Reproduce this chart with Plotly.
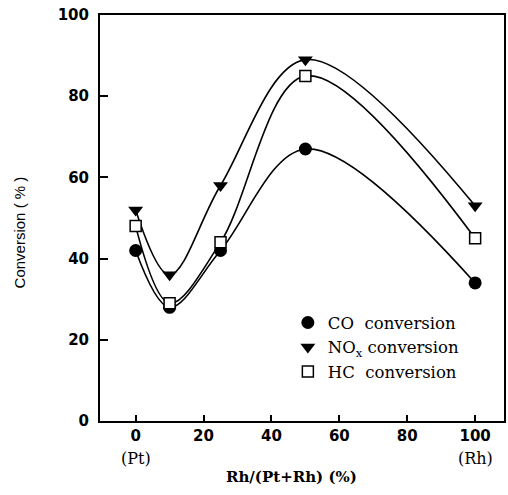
import plotly.graph_objects as go

# Rh fraction of the Pt-Rh catalyst (%)
rh_fraction = [0, 10, 25, 50, 100]

# Conversion (%) for each pollutant
co_conv = [42, 28, 42, 67, 34]
nox_conv = [52, 36, 58, 89, 53]
hc_conv = [48, 29, 44, 85, 45]

x_ticks = [0, 20, 40, 60, 80, 100]
y_ticks = [0, 20, 40, 60, 80, 100]

series = [
    ("CO  conversion", co_conv, dict(symbol="circle", size=13, color="black")),
    ("NO<sub>x</sub> conversion", nox_conv,
     dict(symbol="triangle-down", size=13, color="black")),
    ("HC  conversion", hc_conv,
     dict(symbol="square", size=11, color="white", line=dict(color="black", width=1.5))),
]

fig = go.Figure()

# smooth fitted curves
for name, vals, mk in series:
    fig.add_trace(go.Scatter(
        x=rh_fraction, y=vals, mode="lines",
        line=dict(color="black", width=1.6, shape="spline", smoothing=1.0),
        showlegend=False, hoverinfo="skip"))

# measured points
for name, vals, mk in series:
    fig.add_trace(go.Scatter(
        x=rh_fraction, y=vals, mode="markers", name=name,
        marker=mk, cliponaxis=False))

tick_font = dict(family="DejaVu Sans", size=15, color="black", weight="bold")

fig.update_layout(
    width=508, height=495,
    margin=dict(l=100, r=2, t=15, b=74),
    paper_bgcolor="white", plot_bgcolor="white",
    font=dict(family="Liberation Serif", color="black"),
    showlegend=True,
    legend=dict(
        x=0.465, y=0.285, xanchor="left", yanchor="top",
        bgcolor="rgba(0,0,0,0)", borderwidth=0,
        font=dict(family="DejaVu Serif", size=16.5, color="black"),
        tracegroupgap=0, itemsizing="trace",
    ),
    xaxis=dict(
        range=[-10.5, 108.5], tickvals=x_ticks, ticktext=[str(v) for v in x_ticks],
        showgrid=False, zeroline=False, showline=True, linecolor="black",
        linewidth=2, mirror=True, ticks="inside", ticklen=6, tickwidth=1.5,
        tickcolor="black", tickfont=tick_font,
    ),
    yaxis=dict(
        range=[0, 100], tickvals=y_ticks,
        showgrid=False, zeroline=False, showline=True, linecolor="black",
        linewidth=2, mirror=True, ticks="inside", ticklen=8, tickwidth=1.5,
        tickcolor="black", tickfont=tick_font, ticklabelstandoff=6,
    ),
)

# endpoint labels beneath the x ticks
for xv, txt in [(0, "(Pt)"), (100, "(Rh)")]:
    fig.add_annotation(x=xv, xref="x", y=-0.092, yref="paper", text=txt,
                       showarrow=False, yanchor="middle",
                       font=dict(family="DejaVu Serif", size=16, color="black"))

fig.add_annotation(x=0.473, xref="paper", y=-0.138, yref="paper",
                   text="<b>Rh/(Pt+Rh) (%)</b>", showarrow=False, yanchor="middle",
                   font=dict(family="DejaVu Serif", size=15, color="black"))

fig.add_annotation(x=-0.2, xref="paper", y=0.465, yref="paper",
                   text="Conversion ( % )", showarrow=False, textangle=-90,
                   xanchor="center", yanchor="middle",
                   font=dict(family="Liberation Sans", size=15, color="black"))

fig.write_html("out.html")
